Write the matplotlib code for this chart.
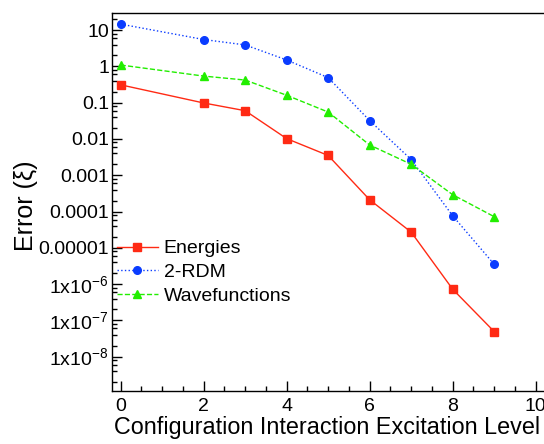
import numpy as np
import matplotlib
matplotlib.use("Agg")
import matplotlib.pyplot as plt
from matplotlib.ticker import FixedLocator, FixedFormatter, MultipleLocator

plt.rcParams['font.family'] = ['Liberation Sans', 'DejaVu Sans']
plt.rcParams['mathtext.default'] = 'regular'

# data
levels = [0, 2, 3, 4, 5, 6, 7, 8, 9]
energies = [0.31, 0.098, 0.060, 0.0102, 0.0035, 2.1e-4, 2.7e-5, 7.2e-7, 4.9e-8]
rdm2 = [14.6, 5.5, 3.9, 1.5, 0.49, 0.032, 0.0027, 7.6e-5, 3.5e-6]
wavefunctions = [1.09, 0.54, 0.42, 0.16, 0.055, 0.0068, 0.0020, 2.9e-4, 7.2e-5]

ytick_vals = [10, 1, 0.1, 0.01, 0.001, 1e-4, 1e-5, 1e-6, 1e-7, 1e-8]
ytick_labels = ['10', '1', '0.1', '0.01', '0.001', '0.0001', '0.00001',
                '1x10$^{-6}$', '1x10$^{-7}$', '1x10$^{-8}$']

fig = plt.figure(figsize=(5.44, 4.44), dpi=100)
ax = fig.add_axes([0.2053, 0.12, 0.8176, 0.85])

ax.plot(levels, energies, color='#ff2a14', ls='-', lw=1.0, marker='s', ms=5.5, label='Energies')
ax.plot(levels, rdm2, color='#0a3cff', ls=':', lw=1.0, marker='o', ms=5.5, label='2-RDM')
ax.plot(levels, wavefunctions, color='#22ee00', ls='--', lw=1.0, marker='^', ms=6, label='Wavefunctions')

ax.set_yscale('log')
ax.set_ylim(1.15e-9, 29)
ax.set_xlim(-0.217, 10.5)

ax.yaxis.set_major_locator(FixedLocator(ytick_vals))
ax.yaxis.set_major_formatter(FixedFormatter(ytick_labels))
minor = [m * 10.0 ** e for e in range(-10, 2) for m in (2, 4, 6, 8)]
ax.yaxis.set_minor_locator(FixedLocator(minor))
ax.yaxis.set_minor_formatter(FixedFormatter([''] * len(minor)))

ax.xaxis.set_major_locator(MultipleLocator(2))
ax.xaxis.set_minor_locator(MultipleLocator(0.5))

ax.tick_params(which='major', direction='in', length=7, width=1, labelsize=14)
ax.tick_params(which='minor', direction='in', length=3.5, width=1)
ax.tick_params(axis='y', which='major', pad=2)
ax.tick_params(axis='x', which='major', pad=5)
ax.tick_params(top=False, right=False)
for s in ax.spines.values():
    s.set_linewidth(1.0)

ax.set_xlabel('Configuration Interaction Excitation Level', fontsize=16.8)
ax.xaxis.set_label_coords(0.484, -0.068)
ax.set_ylabel('Error (ξ)', fontsize=18)
ax.yaxis.set_label_coords(-0.166, 0.49)

ax.legend(loc='upper left', bbox_to_anchor=(0.012, 0.40), frameon=False, fontsize=14,
          handlelength=2.1, handletextpad=0.3, labelspacing=0.32, borderaxespad=0,
          borderpad=0)

fig.savefig('out.png', dpi=100)
